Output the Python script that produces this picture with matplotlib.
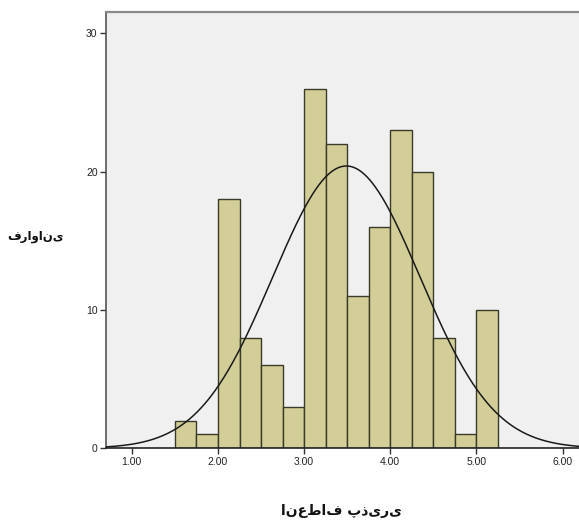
import numpy as np
import matplotlib
matplotlib.use("Agg")
import matplotlib.pyplot as plt

# bin edges and counts (bin width 0.25)
bin_left = [1.50, 1.75, 2.00, 2.25, 2.50, 2.75, 3.00, 3.25,
            3.50, 3.75, 4.00, 4.25, 4.50, 4.75, 5.00]
counts = [2, 1, 18, 8, 6, 3, 26, 22, 11, 16, 23, 20, 8, 1, 10]
bin_width = 0.25

# normal curve parameters (SPSS overlay)
mean_val = 3.49
sd_val = 0.855

x_ticks = [1, 2, 3, 4, 5, 6]
x_ticklabels = ["1.00", "2.00", "3.00", "4.00", "5.00", "6.00"]
y_ticks = [0, 10, 20, 30]

y_label = "فراوانی"
x_label = "انعطاف پذیری"

fig = plt.figure(figsize=(5.79, 5.24), dpi=100)
ax = fig.add_axes([0.183, 0.1445, 0.817, 0.8326])
ax.set_facecolor("#f0f0f0")

ax.bar(bin_left, counts, width=bin_width, align="edge",
       color="#d3ce97", edgecolor="#3a3a2a", linewidth=1.0, zorder=2)

n = sum(counts)
xs = np.linspace(0.70, 6.2, 400)
ys = n * bin_width / (sd_val * np.sqrt(2 * np.pi)) * np.exp(-0.5 * ((xs - mean_val) / sd_val) ** 2)
ax.plot(xs, ys, color="#1a1a1a", linewidth=1.1, zorder=3)

ax.set_xlim(0.70, 6.19)
ax.set_ylim(0, 31.55)

ax.set_xticks(x_ticks)
ax.set_xticklabels(x_ticklabels)
ax.set_yticks(y_ticks)
ax.tick_params(axis="both", direction="out", length=4, width=1.0,
               color="#333333", labelsize=7.5, labelcolor="#222222", pad=2)
for lab in ax.get_xticklabels() + ax.get_yticklabels():
    lab.set_family("Liberation Sans")

ax.spines["right"].set_visible(False)
ax.spines["top"].set_color("#8a8a8a")
ax.spines["top"].set_linewidth(1.6)
ax.spines["left"].set_color("#555555")
ax.spines["left"].set_linewidth(1.2)
ax.spines["bottom"].set_color("#222222")
ax.spines["bottom"].set_linewidth(1.2)

fig.text(0.062, 0.548, y_label, fontsize=8.5, fontweight="bold",
         family="DejaVu Sans", ha="center", va="center", color="#111111")
fig.text(0.589, 0.024, x_label, fontsize=10, fontweight="bold",
         family="DejaVu Sans", ha="center", va="center", color="#111111")

fig.savefig("out.png", dpi=100)
